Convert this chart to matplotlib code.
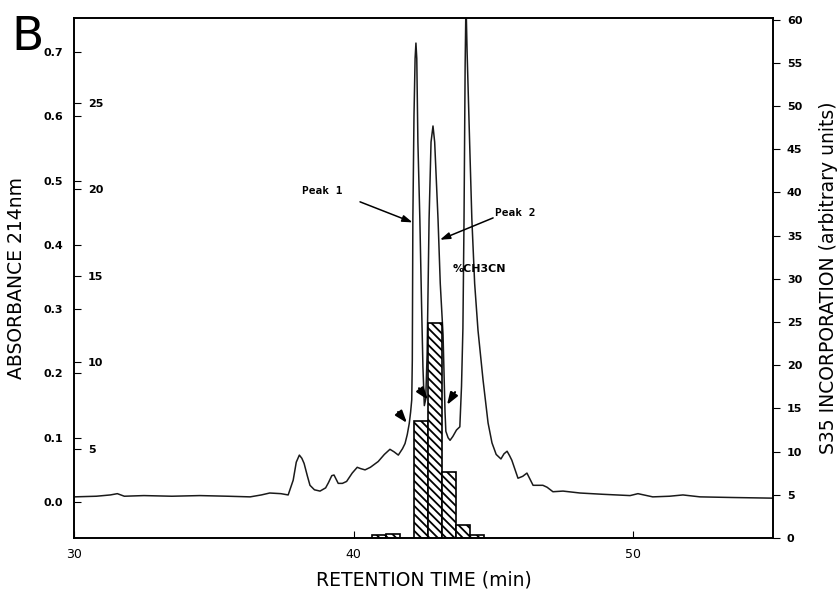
import numpy as np
import matplotlib
matplotlib.use('Agg')
import matplotlib.pyplot as plt

# chromatogram trace (retention time in min, absorbance at 214 nm)
t_min = [30.0, 30.8, 31.3, 31.55, 31.8, 32.5, 33.5, 34.5, 35.5, 36.3, 36.7, 37.0,
         37.4, 37.66, 37.84, 37.95, 38.06, 38.15, 38.23, 38.35, 38.44, 38.6, 38.8,
         39.0, 39.1, 39.22, 39.3, 39.45, 39.6, 39.75, 39.95, 40.13, 40.25, 40.41,
         40.6, 40.88, 41.1, 41.3, 41.45, 41.6, 41.75, 41.84, 41.92, 41.99, 42.04,
         42.08, 42.10, 42.12, 42.16, 42.20, 42.23, 42.26, 42.30, 42.37, 42.43, 42.48,
         42.53, 42.58, 42.63, 42.70, 42.77, 42.84, 42.90, 43.02, 43.10, 43.20, 43.27,
         43.30, 43.38, 43.45, 43.55, 43.68, 43.80, 43.86, 43.91, 43.95, 43.99, 44.02,
         44.06, 44.15, 44.23, 44.33, 44.45, 44.63, 44.81, 44.95, 45.10, 45.27, 45.38,
         45.49, 45.58, 45.66, 45.88, 46.05, 46.2, 46.42, 46.77, 46.92, 47.13, 47.49,
         48.1, 48.92, 49.89, 50.17, 50.7, 51.3, 51.78, 52.39, 53.57, 55.0]
absorbance = [0.008, 0.009, 0.011, 0.013, 0.009, 0.010, 0.009, 0.010, 0.009, 0.008, 0.011, 0.014,
              0.013, 0.011, 0.034, 0.062, 0.073, 0.068, 0.060, 0.040, 0.026, 0.019, 0.017,
              0.022, 0.030, 0.041, 0.042, 0.029, 0.029, 0.032, 0.045, 0.054, 0.052, 0.050,
              0.054, 0.063, 0.074, 0.082, 0.078, 0.073, 0.083, 0.091, 0.105, 0.122, 0.140,
              0.159, 0.22, 0.44, 0.60, 0.69, 0.714, 0.69, 0.56, 0.44, 0.31, 0.21,
              0.15, 0.16, 0.23, 0.44, 0.56, 0.585, 0.56, 0.44, 0.34, 0.26, 0.14,
              0.11, 0.10, 0.096, 0.102, 0.112, 0.117, 0.18, 0.27, 0.44, 0.68, 0.78,
              0.70, 0.56, 0.44, 0.34, 0.267, 0.19, 0.123, 0.092, 0.074, 0.067, 0.075,
              0.079, 0.072, 0.065, 0.037, 0.040, 0.045, 0.026, 0.026, 0.023, 0.016, 0.017,
              0.014, 0.012, 0.010, 0.013, 0.008, 0.009, 0.011, 0.008, 0.007, 0.006]

# S35 incorporation per fraction (left edge of fraction, arbitrary units)
frac_start = [40.65, 41.15, 42.15, 42.65, 43.15, 43.65, 44.15]
s35 = [0.3, 0.45, 13.6, 24.9, 7.6, 1.55, 0.4]
frac_width = 0.5

ch3cn_ticks = [5, 10, 15, 20, 25]

plt.rcParams['hatch.linewidth'] = 1.3

fig = plt.figure(figsize=(8.39, 5.96), dpi=100)
ax = fig.add_axes([0.0882, 0.0973, 0.8331, 0.8725])
ax2 = ax.twinx()
ax3 = ax.twinx()

ax.plot(t_min, absorbance, color='#1a1a1a', lw=1.1)
ax.set_xlim(30, 55)
ax.set_ylim(-0.056, 0.753)
ax.set_xticks([30, 40, 50])
ax.set_yticks(np.arange(0, 0.71, 0.1))
ax.set_yticklabels(['%.1f' % v for v in np.arange(0, 0.71, 0.1)])
ax.tick_params(axis='x', direction='in', length=5, pad=7, labelsize=9)
ax.tick_params(axis='y', direction='in', length=5, pad=8, labelsize=8)
for lab in ax.get_yticklabels():
    lab.set_fontweight('bold')
ax.set_xlabel('RETENTION TIME (min)', fontsize=13.5, labelpad=7)
ax.set_ylabel('ABSORBANCE 214nm', fontsize=13.5, labelpad=12)

ax2.bar(frac_start, s35, width=frac_width, align='edge', color='white',
        edgecolor='black', hatch='\\\\\\\\', lw=1.2)
ax2.set_ylim(0, 60.2)
ax2.set_yticks(range(0, 61, 5))
ax2.tick_params(axis='y', direction='out', length=5, pad=5, labelsize=8)
for lab in ax2.get_yticklabels():
    lab.set_fontweight('bold')
ax2.set_ylabel('S35 INCORPORATION (arbitrary units)', fontsize=13.5, labelpad=12)

# %CH3CN scale, ticks inside the left spine
ax3.set_ylim(-0.14, 29.9)
ax3.yaxis.set_ticks_position('left')
ax3.set_yticks(ch3cn_ticks)
ax3.tick_params(axis='y', direction='in', length=5, pad=-10, labelsize=8)
for lab in ax3.get_yticklabels():
    lab.set_horizontalalignment('left')
    lab.set_fontweight('bold')
for s in ax3.spines.values():
    s.set_visible(False)

for a in (ax, ax2):
    for s in a.spines.values():
        s.set_linewidth(1.2)

# annotations drawn on top of the bars
tr = ax.transData
peak_arrow = dict(arrowstyle='-|>,head_length=0.6,head_width=0.2', color='black',
                  lw=1.1, shrinkA=0, shrinkB=0, mutation_scale=10)
ax3.annotate('', xy=(42.11, 0.435), xytext=(40.23, 0.467),
             xycoords=tr, textcoords=tr, arrowprops=peak_arrow)
ax3.annotate('', xy=(43.09, 0.408), xytext=(44.99, 0.442),
             xycoords=tr, textcoords=tr, arrowprops=peak_arrow)
ax3.text(38.15, 0.484, 'Peak 1', transform=tr, ha='left', va='center',
         fontsize=8, fontweight='bold', family='DejaVu Sans Mono')
ax3.text(45.06, 0.449, 'Peak 2', transform=tr, ha='left', va='center',
         fontsize=8, fontweight='bold', family='DejaVu Sans Mono')
ax3.text(43.56, 0.362, '%CH3CN', transform=tr, ha='left', va='center',
         fontsize=8, fontweight='bold')

mark = dict(arrowstyle='-|>,head_length=0.8,head_width=0.28', color='black',
            lw=1.5, shrinkA=0, shrinkB=0, mutation_scale=9)
for tip, tail in [((41.91, 0.123), (41.59, 0.140)),
                  ((42.66, 0.159), (42.34, 0.177)),
                  ((43.34, 0.151), (43.63, 0.171))]:
    ax3.annotate('', xy=tip, xytext=tail, xycoords=tr, textcoords=tr,
                 arrowprops=mark)

fig.text(0.014, 0.916, 'B', fontsize=34, ha='left', va='baseline')

fig.savefig('out.png', dpi=100)
